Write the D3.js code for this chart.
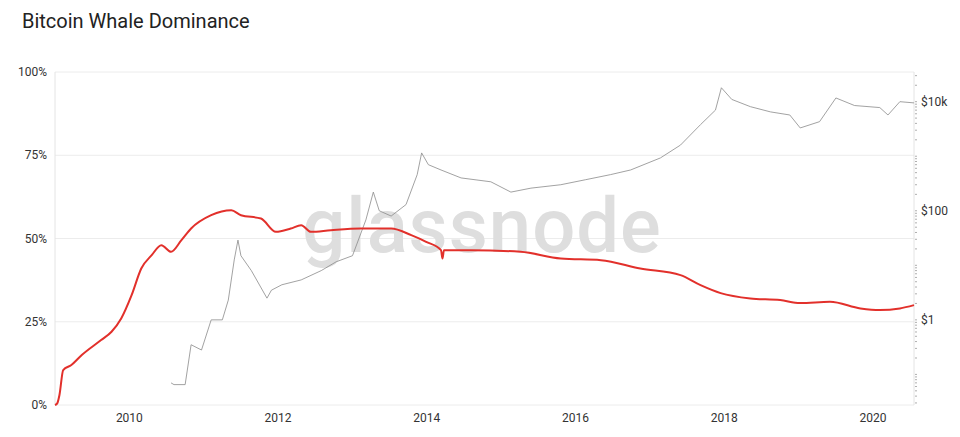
<!DOCTYPE html><html><head><meta charset="utf-8"><script src="https://cdn.jsdelivr.net/npm/d3@7"></script>
<style>body{margin:0;background:#fff;font-family:Roboto,sans-serif}</style></head><body><svg id="c" width="960" height="437"></svg><script>
const domYears=[2009.0,2020.55];
const whaleYears=[2009.0,2009.03,2009.06,2009.11,2009.22,2009.36,2009.62,2009.76,2009.89,2010.03,2010.16,2010.30,2010.43,2010.56,2010.70,2010.83,2011.10,2011.37,2011.50,2011.77,2011.97,2012.17,2012.31,2012.44,2012.71,2013.11,2013.52,2013.79,2013.99,2014.19,2014.21,2014.23,2014.59,2015.26,2015.80,2016.34,2016.87,2017.41,2017.68,2017.95,2018.35,2018.75,2019.02,2019.42,2019.83,2020.09,2020.36,2020.55];
const whalePct=[0,0.5,3,10.5,12,15,19.5,22,26,33,41,45,48,46,49.5,53,57,58.5,57,56,52,53,54,52,52.5,53,53,51,49,46.5,44,46.5,46.5,46,44,43.5,41,39,36,33.6,32,31.5,30.6,31,29,28.5,29,30];
const priceYears=[2010.56,2010.6,2010.75,2010.83,2010.97,2011.1,2011.25,2011.33,2011.41,2011.46,2011.5,2011.64,2011.85,2011.91,2012.05,2012.31,2012.58,2012.78,2013.0,2013.18,2013.28,2013.36,2013.52,2013.72,2013.87,2013.93,2014.02,2014.19,2014.46,2014.86,2015.13,2015.4,2015.8,2016.13,2016.47,2016.74,2017.14,2017.41,2017.68,2017.88,2017.96,2018.1,2018.35,2018.62,2018.88,2019.02,2019.28,2019.5,2019.75,2020.09,2020.2,2020.36,2020.55];
const priceUsd=[0.07,0.065,0.065,0.35,0.28,1,1,2.3,12.6,29,15,8,2.5,3.5,4.4,5.4,8,11.6,15,68,220,100,80,130,460,1150,700,560,400,340,220,260,300,370,460,560,930,1600,3800,7000,18000,11000,8100,6500,5700,3300,4300,11700,8500,7800,5700,10000,9500];
const pctTicks=[0,25,50,75,100];
const yearTicks=[2010,2012,2014,2016,2018,2020];
const priceTicks=[1,100,10000];
const svg=d3.select("#c");
const L=55,R=914,T=72,B=405;
const x=d3.scaleLinear().domain(domYears).range([L,R]);
const y=d3.scaleLinear().domain([0,100]).range([B,T]);
const yp=d3.scaleLog().domain([0.0275,35000]).range([B,T]);
svg.append("text").attr("x",22).attr("y",28).attr("font-size",20).attr("fill","#222").text("Bitcoin Whale Dominance");
svg.append("g").selectAll("line").data(pctTicks).join("line").attr("x1",L).attr("x2",R).attr("y1",d=>y(d)).attr("y2",d=>y(d)).attr("stroke","#ececec");
svg.append("line").attr("x1",L).attr("x2",L).attr("y1",T).attr("y2",B).attr("stroke","#e4e4e4");
svg.append("line").attr("x1",R).attr("x2",R).attr("y1",T).attr("y2",B).attr("stroke","#e4e4e4");
svg.append("text").attr("x",482).attr("y",252).attr("text-anchor","middle").attr("font-size",76).attr("font-weight",500).attr("fill","#dedede").attr("letter-spacing",1).text("glassnode");
svg.append("g").selectAll("text").data(pctTicks).join("text").attr("x",47).attr("y",d=>y(d)+4).attr("text-anchor","end").attr("font-size",12).attr("fill","#333").text(d=>d+"%");
svg.append("g").selectAll("text").data(yearTicks).join("text").attr("x",d=>x(d)).attr("y",422).attr("text-anchor","middle").attr("font-size",12).attr("fill","#333").text(d=>d);
const minors=[];for(let e=-2;e<=4;e++)for(let m=1;m<10;m++){const v=m*Math.pow(10,e);if(v>=0.0275&&v<=35000)minors.push(v);}
svg.append("g").selectAll("line").data(minors).join("line").attr("x1",R+1).attr("x2",R+3).attr("y1",d=>yp(d)).attr("y2",d=>yp(d)).attr("stroke","#999").attr("stroke-width",0.8);
svg.append("g").selectAll("text").data(priceTicks).join("text").attr("x",921).attr("y",d=>yp(d)+4).attr("font-size",12).attr("fill","#333").text(d=>d>=1000?"$"+d/1000+"k":"$"+d);
svg.append("path").datum(priceYears.map((d,i)=>[d,priceUsd[i]])).attr("fill","none").attr("stroke","#8a8a8a").attr("stroke-width",0.8).attr("d",d3.line().x(d=>x(d[0])).y(d=>yp(d[1])));
svg.append("path").datum(whaleYears.map((d,i)=>[d,whalePct[i]])).attr("fill","none").attr("stroke","#e2302b").attr("stroke-width",2).attr("d",d3.line().curve(d3.curveMonotoneX).x(d=>x(d[0])).y(d=>y(d[1])));
</script></body></html>
